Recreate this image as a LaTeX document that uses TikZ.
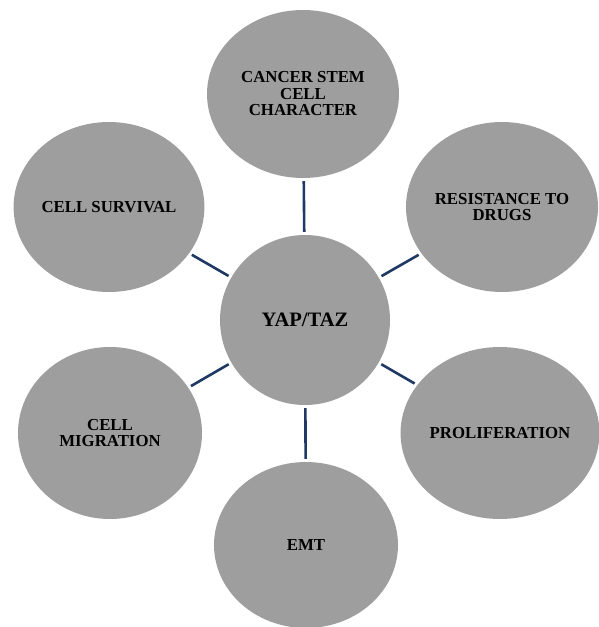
\documentclass[tikz,border=0pt]{standalone}
\usepackage{fontspec}
\setmainfont{Liberation Serif}
\usetikzlibrary{shapes.geometric}

\definecolor{bubblegray}{RGB}{158,158,158}
\definecolor{linknavy}{RGB}{31,56,100}

\begin{document}
\begin{tikzpicture}[
  x=1pt, y=-1pt,
  bubble/.style={ellipse, fill=bubblegray, align=center, inner sep=0pt,
                 font=\fontsize{16.8}{16.5}\selectfont\bfseries},
  hub/.style={bubble, minimum width=170pt, minimum height=170pt,
              font=\fontsize{20.5}{22}\selectfont\bfseries},
  link/.style={draw=linknavy, line width=2.6pt, shorten <=3pt, shorten >=3pt},
]
\useasboundingbox (0,0) rectangle (598,627);
\node[hub] (yap) at (305,320) {YAP/TAZ};
\node[bubble, minimum width=192pt, minimum height=168pt] (stem) at (303,94)
      {CANCER STEM\\CELL\\CHARACTER};
\node[bubble, minimum width=190pt, minimum height=170pt] (surv) at (109,207)
      {CELL SURVIVAL};
\node[bubble, minimum width=192pt, minimum height=170pt] (drug) at (502,207)
      {RESISTANCE TO\\DRUGS};
\node[bubble, minimum width=184pt, minimum height=172pt] (migr) at (110,433)
      {CELL\\MIGRATION};
\node[bubble, minimum width=196pt, minimum height=172pt] (prol) at (500,433)
      {PROLIFERATION};
\node[bubble, minimum width=184pt, minimum height=166pt] (emt) at (306,545)
      {EMT};
\draw[link] (stem) -- (yap);
\draw[link] (surv) -- (yap);
\draw[link] (drug) -- (yap);
\draw[link] (migr) -- (yap);
\draw[link] (prol) -- (yap);
\draw[link] (emt) -- (yap);
\end{tikzpicture}
\end{document}
